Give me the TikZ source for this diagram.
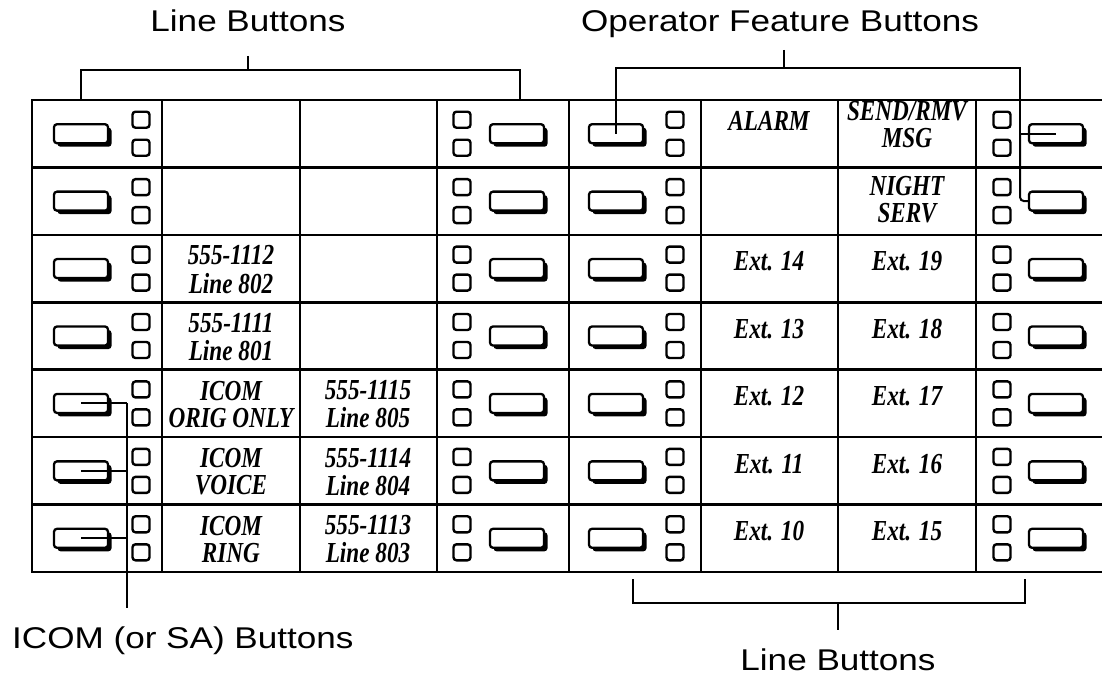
\documentclass[tikz,border=0pt]{standalone}
\usepackage{fontspec}
\usepackage{graphicx}
\setmainfont{Liberation Sans}
\newfontfamily\handfont{Liberation Serif}
\usetikzlibrary{shadows}
% horizontally stretched captions, narrow hand lettering
\newcommand\wide[1]{\scalebox{1.17}[1]{#1}}
\newcommand\narrow[1]{\scalebox{0.8}[1]{#1}}
\newcommand\pair[2]{\scalebox{0.8}[1]{\begin{tabular}{@{}c@{}}#1\\#2\end{tabular}}}

\begin{document}
\begin{tikzpicture}[x=1pt,y=-1pt,
  rule/.style={line width=2.5pt,line cap=rect},
  lead/.style={line width=2pt},
  pbtn/.style={draw,line width=2.3pt,rounded corners=3pt,fill=white,
    minimum width=54pt,minimum height=19pt,inner sep=0pt,
    drop shadow={shadow xshift=3.5pt,shadow yshift=-3.5pt,opacity=1,fill=black}},
  ledbox/.style={draw,line width=2.4pt,rounded corners=3pt,
    minimum width=17pt,minimum height=16pt,inner sep=0pt},
  caption/.style={font=\fontsize{30}{36}\selectfont,inner sep=0pt},
  hand/.style={font=\handfont\bfseries\itshape\fontsize{29}{27}\selectfont,inner sep=0pt}]
\useasboundingbox (0,0) rectangle (1102,679);

% console grid (two designation strips side by side)
\foreach \yy in {100,167.4,234.9,302.3,369.7,437.1,504.6,572}
  \draw[rule] (32,\yy) -- (1102,\yy);
\foreach \xx in {32,162,300,437,569,701,838,976}
  \draw[rule] (\xx,100) -- (\xx,572);

% buttons and status lamps, row by row
\foreach \r in {1,...,7}{
  \pgfmathsetmacro\cy{100+(\r-0.5)*67.43}
  \node[pbtn]   (ka\r) at (81,\cy) {};
  \node[ledbox] (la\r) at (141,\cy-14) {};
  \node[ledbox] (lb\r) at (141,\cy+14) {};
  \node[ledbox] (lc\r) at (462,\cy-14) {};
  \node[ledbox] (ld\r) at (462,\cy+14) {};
  \node[pbtn]   (kb\r) at (517,\cy) {};
  \node[pbtn]   (kc\r) at (616,\cy) {};
  \node[ledbox] (le\r) at (675,\cy-14) {};
  \node[ledbox] (lf\r) at (675,\cy+14) {};
  \node[ledbox] (lg\r) at (1002,\cy-14) {};
  \node[ledbox] (lh\r) at (1002,\cy+14) {};
  \node[pbtn]   (kd\r) at (1056,\cy) {};
}

% designation labels, left strip
\node[hand] (a3) at (231,273.4) {\pair{555-1112}{Line 802}};
\node[hand] (a4) at (231,340.8) {\pair{555-1111}{Line 801}};
\node[hand] (a5) at (231,408.2) {\pair{ICOM}{ORIG ONLY}};
\node[hand] (a6) at (231,475.7) {\pair{ICOM}{VOICE}};
\node[hand] (a7) at (231,543.1) {\pair{ICOM}{RING}};
\node[hand] (b5) at (368,408.2) {\pair{555-1115}{Line 805}};
\node[hand] (b6) at (368,475.7) {\pair{555-1114}{Line 804}};
\node[hand] (b7) at (368,543.1) {\pair{555-1113}{Line 803}};

% designation labels, right strip
\node[hand] (c1) at (769,120.7) {\narrow{ALARM}};
\node[hand] (c3) at (769,261.6) {\narrow{Ext. 14}};
\node[hand] (c4) at (769,329.0) {\narrow{Ext. 13}};
\node[hand] (c5) at (769,396.4) {\narrow{Ext. 12}};
\node[hand] (c6) at (769,463.9) {\narrow{Ext. 11}};
\node[hand] (c7) at (769,531.3) {\narrow{Ext. 10}};
\node[hand] (d1) at (907,128.5) {\pair{SEND/RMV}{MSG}};
\node[hand] (d2) at (907,203.4) {\pair{NIGHT}{SERV}};
\node[hand] (d3) at (907,261.6) {\narrow{Ext. 19}};
\node[hand] (d4) at (907,329.0) {\narrow{Ext. 18}};
\node[hand] (d5) at (907,396.4) {\narrow{Ext. 17}};
\node[hand] (d6) at (907,463.9) {\narrow{Ext. 16}};
\node[hand] (d7) at (907,531.3) {\narrow{Ext. 15}};

% captions
\node[caption,anchor=base] (capLine) at (248,32) {\wide{Line Buttons}};
\node[caption,anchor=base] (capOper) at (780,32) {\wide{Operator Feature Buttons}};
\node[caption,anchor=base west] (capIcom) at (12,648) {\wide{ICOM (or SA) Buttons}};
\node[caption,anchor=base] (capLine2) at (838,670) {\wide{Line Buttons}};

% bracket for the left strip's line buttons
\coordinate (lbTick) at (248,56);
\coordinate (lbMid) at (248,70);
\coordinate (lbL) at (81,100);
\coordinate (lbR) at (520,100);
\draw[lead] (lbTick) -- (lbMid);
\draw[lead] (lbL) |- (lbMid) -| (lbR);

% operator feature buttons
\coordinate (obTick) at (784,50);
\coordinate (obMid) at (784,68);
\coordinate (orail) at (1020,68);
\coordinate (oj1) at (orail |- kd1.center);
\draw[lead] (obTick) -- (obMid);
\draw[lead] (kc1.center) |- (obMid) -| (oj1) -- (kd1.center);
\draw[lead,rounded corners=4pt] (oj1) |- (kd2.west);

% ICOM (or SA) buttons
\coordinate (irail) at (127,608);
\coordinate (i5) at (ka5.center -| irail);
\coordinate (i6) at (ka6.center -| irail);
\coordinate (i7) at (ka7.center -| irail);
\draw[lead] (ka5.center) -- (i5);
\draw[lead] (ka6.center) -- (i6);
\draw[lead] (ka7.center) -- (i7);
\draw[lead] (i5) -- (irail);

% bracket for the right strip's line buttons
\coordinate (bbL) at (633,579);
\coordinate (bbR) at (1025,579);
\coordinate (bbMid) at (838,603);
\coordinate (bbTick) at (838,630);
\draw[lead] (bbL) |- (bbMid) -| (bbR);
\draw[lead] (bbMid) -- (bbTick);
\end{tikzpicture}
\end{document}
